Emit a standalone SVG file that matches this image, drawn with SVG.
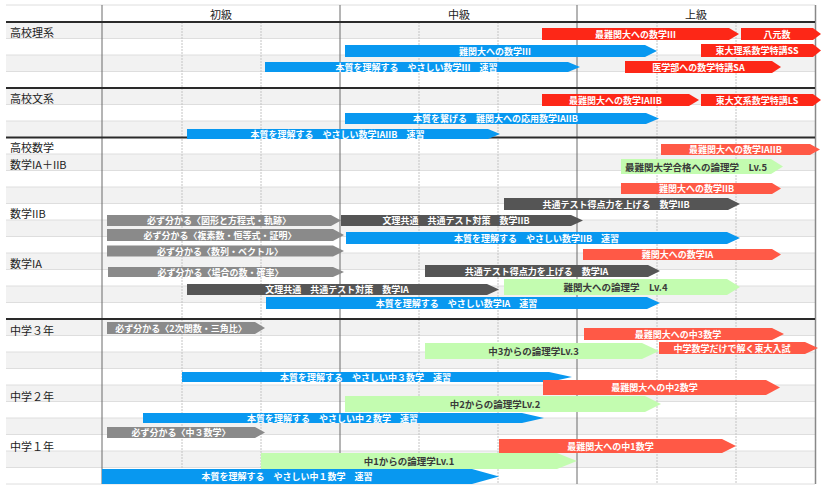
<svg xmlns="http://www.w3.org/2000/svg" width="824" height="493" viewBox="0 0 824 493">
<style>
.bg{fill:#ffffff}
.rg{fill:#f2f2f2}
.sep{stroke:#dedede;stroke-width:1}
.thick{stroke:#2a2a2a;stroke-width:2}
.major{stroke:#6a6a6a;stroke-width:1}
.minor{stroke:#c4c4c4;stroke-width:1;stroke-dasharray:2 1}
.lbl{font-family:"Noto Sans CJK JP","Noto Sans",sans-serif;font-size:11px;fill:#222;dominant-baseline:central}
.hdr{font-family:"Noto Sans CJK JP","Noto Sans",sans-serif;font-size:11px;fill:#222;text-anchor:middle;dominant-baseline:central}
.bt{font-family:"Noto Sans CJK JP","Noto Sans",sans-serif;font-size:9px;font-weight:bold;fill:#fff;text-anchor:middle;dominant-baseline:central}
.gt{font-family:"Noto Sans CJK JP","Noto Sans",sans-serif;font-size:9.5px;font-weight:bold;fill:#3a3a3a;text-anchor:middle;dominant-baseline:central}
.blue{fill:#0898f0}
.red1{fill:#fd2717}
.red2{fill:#ff5946}
.green{fill:#c3fcb0}
.dark{fill:#555555}
.gray{fill:#8a8a8a}
</style>
<rect class="bg" x="0" y="0" width="824" height="493"/>
<g id="grid">
<rect class="rg" x="6" y="22" width="809" height="16.5"/>
<rect class="rg" x="6" y="55" width="809" height="16.5"/>
<rect class="rg" x="6" y="88" width="809" height="16.5"/>
<rect class="rg" x="6" y="121" width="809" height="16.5"/>
<rect class="rg" x="6" y="154" width="809" height="16.5"/>
<rect class="rg" x="6" y="187" width="809" height="16.5"/>
<rect class="rg" x="6" y="220" width="809" height="16.5"/>
<rect class="rg" x="6" y="253" width="809" height="16.5"/>
<rect class="rg" x="6" y="286" width="809" height="16.5"/>
<rect class="rg" x="6" y="319" width="809" height="16.5"/>
<rect class="rg" x="6" y="352" width="809" height="16.5"/>
<rect class="rg" x="6" y="385" width="809" height="16.5"/>
<rect class="rg" x="6" y="418" width="809" height="16.5"/>
<rect class="rg" x="6" y="451" width="809" height="16.5"/>
<g class="sep">
<line x1="6" y1="5" x2="815" y2="5"/>
<line x1="6" y1="38.5" x2="815" y2="38.5"/>
<line x1="6" y1="55" x2="815" y2="55"/>
<line x1="6" y1="71.5" x2="815" y2="71.5"/>
<line x1="6" y1="104.5" x2="815" y2="104.5"/>
<line x1="6" y1="121" x2="815" y2="121"/>
<line x1="6" y1="154" x2="815" y2="154"/>
<line x1="6" y1="170.5" x2="815" y2="170.5"/>
<line x1="6" y1="187" x2="815" y2="187"/>
<line x1="6" y1="203.5" x2="815" y2="203.5"/>
<line x1="6" y1="220" x2="815" y2="220"/>
<line x1="6" y1="236.5" x2="815" y2="236.5"/>
<line x1="6" y1="253" x2="815" y2="253"/>
<line x1="6" y1="269.5" x2="815" y2="269.5"/>
<line x1="6" y1="286" x2="815" y2="286"/>
<line x1="6" y1="302.5" x2="815" y2="302.5"/>
<line x1="6" y1="335.5" x2="815" y2="335.5"/>
<line x1="6" y1="352" x2="815" y2="352"/>
<line x1="6" y1="368.5" x2="815" y2="368.5"/>
<line x1="6" y1="385" x2="815" y2="385"/>
<line x1="6" y1="401.5" x2="815" y2="401.5"/>
<line x1="6" y1="418" x2="815" y2="418"/>
<line x1="6" y1="434.5" x2="815" y2="434.5"/>
<line x1="6" y1="451" x2="815" y2="451"/>
<line x1="6" y1="467.5" x2="815" y2="467.5"/>
<line x1="6" y1="484" x2="815" y2="484"/>
</g>
<g class="minor">
<line x1="182" y1="22" x2="182" y2="484"/>
<line x1="261" y1="22" x2="261" y2="484"/>
<line x1="419" y1="22" x2="419" y2="484"/>
<line x1="498" y1="22" x2="498" y2="484"/>
<line x1="657" y1="22" x2="657" y2="484"/>
<line x1="736" y1="22" x2="736" y2="484"/>
</g>
<g class="major">
<line x1="102" y1="5" x2="102" y2="484"/>
<line x1="340" y1="5" x2="340" y2="484"/>
<line x1="577" y1="5" x2="577" y2="484"/>
<line x1="815.5" y1="5" x2="815.5" y2="484" stroke="#888" stroke-width="1.5"/>
</g>
<g class="thick">
<line x1="6" y1="22" x2="815" y2="22"/>
<line x1="6" y1="88" x2="815" y2="88"/>
<line x1="6" y1="137.5" x2="815" y2="137.5"/>
<line x1="6" y1="319" x2="815" y2="319"/>
</g>
</g>
<g id="headers">
<text class="hdr" x="221" y="14">初級</text>
<text class="hdr" x="459" y="14">中級</text>
<text class="hdr" x="696" y="14">上級</text>
</g>
<g id="labels">
<text class="lbl" x="10" y="32">高校理系</text>
<text class="lbl" x="10" y="98">高校文系</text>
<text class="lbl" x="10" y="147">高校数学</text>
<text class="lbl" x="10" y="163.5">数学IA＋IIB</text>
<text class="lbl" x="10" y="212.5">数学IIB</text>
<text class="lbl" x="10" y="262.5">数学IA</text>
<text class="lbl" x="10" y="330">中学３年</text>
<text class="lbl" x="10" y="396">中学２年</text>
<text class="lbl" x="10" y="446">中学１年</text>
</g>
<g id="connectors"/>
<g id="bars">
<g id="b03"><polygon class="blue" points="345,45 645,45 657,51 645,57 345,57"/><text class="bt" x="495" y="51">難関大への数学III</text></g>
<g id="b05"><polygon class="blue" points="265,62 568,62 580,67 568,72 265,72"/><text class="bt" x="416.5" y="67">本質を理解する　やさしい数学III　速習</text></g>
<g id="b01"><polygon class="red1" points="542,28 729,28 739,34 729,40 542,40"/><text class="bt" x="635.5" y="34">最難関大への数学III</text></g>
<g id="b02"><polygon class="red1" points="741,28 813,28 821,34 813,40 741,40"/><text class="bt" x="777" y="34">八元数</text></g>
<g id="b04"><polygon class="red1" points="701,44 813,44 821,50.5 813,57 701,57"/><text class="bt" x="757" y="50.5">東大理系数学特講SS</text></g>
<g id="b06"><polygon class="red1" points="625,61 772,61 781,67 772,73 625,73"/><text class="bt" x="698.5" y="67">医学部への数学特講SA</text></g>
<g id="b09"><polygon class="blue" points="345,113 646,113 659,118.5 646,124 345,124"/><text class="bt" x="495.5" y="118.5">本質を繋げる　難関大への応用数学IAIIB</text></g>
<g id="b10"><polygon class="blue" points="187,129 488,129 500,134 488,139 187,139"/><text class="bt" x="337.5" y="134">本質を理解する　やさしい数学IAIIB　速習</text></g>
<g id="b07"><polygon class="red1" points="542,94 689,94 699,100 689,106 542,106"/><text class="bt" x="615.5" y="100">最難関大への数学IAIIB</text></g>
<g id="b08"><polygon class="red1" points="701,94 813,94 821,100 813,106 701,106"/><text class="bt" x="757" y="100">東大文系数学特講LS</text></g>
<g id="b11"><polygon class="red2" points="661,144 810,144 820,149.5 810,155 661,155"/><text class="bt" x="735.5" y="149.5">最難関大への数学IAIIB</text></g>
<g id="b12"><polygon class="green" points="621,159 771,159 783,166.5 771,174 621,174"/><text class="gt" x="696" y="166.5">最難関大学合格への論理学　Lv.5</text></g>
<g id="b13"><polygon class="red2" points="621,183 772,183 781,188.5 772,194 621,194"/><text class="bt" x="696.5" y="188.5">難関大への数学IIB</text></g>
<g id="b14"><polygon class="dark" points="504,198 728,198 740,204 728,210 504,210"/><text class="bt" x="616" y="204">共通テスト得点力を上げる　数学IIB</text></g>
<g id="b22"><polygon class="gray" points="107,215 331,215 341,220.5 331,226 107,226"/><text class="bt" x="219" y="220.5">必ず分かる〈図形と方程式・軌跡〉</text></g>
<g id="b15"><polygon class="dark" points="341,215 571,215 583,220.5 571,226 341,226"/><text class="bt" x="456" y="220.5">文理共通　共通テスト対策　数学IIB</text></g>
<g id="b23"><polygon class="gray" points="107,229 333,229 344,235 333,241 107,241"/><text class="bt" x="220" y="235">必ず分かる〈複素数・恒等式・証明〉</text></g>
<g id="b16"><polygon class="blue" points="346,232 727,232 740,238 727,244 346,244"/><text class="bt" x="536.5" y="238">本質を理解する　やさしい数学IIB　速習</text></g>
<g id="b24"><polygon class="gray" points="107,245.5 333,245.5 344,251 333,256.5 107,256.5"/><text class="bt" x="220" y="251">必ず分かる〈数列・ベクトル〉</text></g>
<g id="b17"><polygon class="red2" points="583,249 772,249 781,254.5 772,260 583,260"/><text class="bt" x="677.5" y="254.5">難関大への数学IA</text></g>
<g id="b25"><polygon class="gray" points="108,267 333,267 344,272 333,277 108,277"/><text class="bt" x="220.5" y="272">必ず分かる〈場合の数・確率〉</text></g>
<g id="b18"><polygon class="dark" points="425,265 648,265 660,271 648,277 425,277"/><text class="bt" x="536.5" y="271">共通テスト得点力を上げる　数学IA</text></g>
<g id="b19"><polygon class="green" points="504,279 727,279 740,287 727,295 504,295"/><text class="gt" x="615.5" y="287">難関大への論理学　Lv.4</text></g>
<g id="b20"><polygon class="dark" points="187,284 487,284 499,289.5 487,295 187,295"/><text class="bt" x="337" y="289.5">文理共通　共通テスト対策　数学IA</text></g>
<g id="b21"><polygon class="blue" points="266,297 647,297 660,303 647,309 266,309"/><text class="bt" x="456.5" y="303">本質を理解する　やさしい数学IA　速習</text></g>
<g id="b26"><polygon class="gray" points="107,322 255,322 265,328 255,334 107,334"/><text class="bt" x="181" y="328">必ず分かる〈2次関数・三角比〉</text></g>
<g id="b27"><polygon class="red2" points="584,328 772,328 784,334 772,340 584,340"/><text class="bt" x="678" y="334">最難関大への中3数学</text></g>
<g id="b28"><polygon class="green" points="425,343 642,343 659,351 642,359 425,359"/><text class="gt" x="533.5" y="351">中3からの論理学Lv.3</text></g>
<g id="b29"><polygon class="red2" points="659,342 805,342 818,348 805,354 659,354"/><text class="bt" x="732" y="348">中学数学だけで解く東大入試</text></g>
<g id="b30"><polygon class="blue" points="182,372 549,372 572,377 549,382 182,382"/><text class="bt" x="365.5" y="377">本質を理解する　やさしい中３数学　速習</text></g>
<g id="b31"><polygon class="red2" points="543,380 766,380 780,387.5 766,395 543,395"/><text class="bt" x="654.5" y="387.5">最難関大への中2数学</text></g>
<g id="b32"><polygon class="green" points="345,396 645,396 661,404 645,412 345,412"/><text class="gt" x="495" y="404">中2からの論理学Lv.2</text></g>
<g id="b33"><polygon class="blue" points="143,413 522,413 544,418 522,423 143,423"/><text class="bt" x="332.5" y="418">本質を理解する　やさしい中２数学　速習</text></g>
<g id="b34"><polygon class="gray" points="107,427 255,427 265,432.5 255,438 107,438"/><text class="bt" x="181" y="432.5">必ず分かる〈中３数学〉</text></g>
<g id="b35"><polygon class="red2" points="499,439 722,439 736,446 722,453 499,453"/><text class="bt" x="610.5" y="446">最難関大への中1数学</text></g>
<g id="b36"><polygon class="green" points="261,453 557,453 577,461 557,469 261,469"/><text class="gt" x="409" y="461">中1からの論理学Lv.1</text></g>
<g id="b37"><polygon class="blue" points="102,469 472,469 499,476.5 472,484 102,484"/><text class="bt" x="287" y="476.5">本質を理解する　やさしい中１数学　速習</text></g>
</g>
</svg>
